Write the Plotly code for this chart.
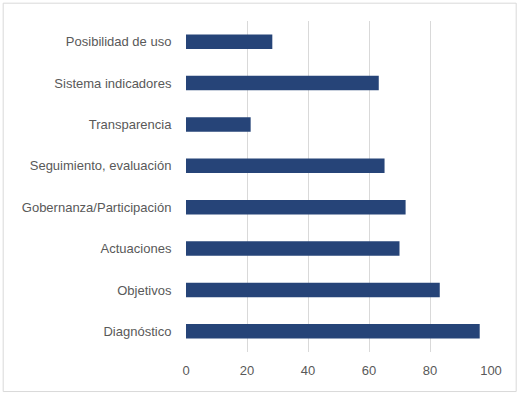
import plotly.graph_objects as go

categories = ["Diagnóstico", "Objetivos", "Actuaciones", "Gobernanza/Participación",
              "Seguimiento, evaluación", "Transparencia", "Sistema indicadores", "Posibilidad de uso"]
values = [96.3, 83.2, 70.0, 72.0, 65.1, 21.2, 63.2, 28.3]
x_ticks = [0, 20, 40, 60, 80, 100]

fig = go.Figure(go.Bar(
    y=categories, x=values, orientation="h",
    marker=dict(color="#264478", line=dict(width=0)),
))

L, R, T, B = 186.3, 28.7, 21.3, 41
W, H = 520, 393
pw = W - L - R
ph = H - T - B

def px2paper_x(p):
    return (p - L) / pw

def px2paper_y(p):
    return (H - B - p) / ph

fig.update_layout(
    width=W, height=H,
    margin=dict(l=L, r=R, t=T, b=B, pad=0),
    paper_bgcolor="white", plot_bgcolor="white",
    bargap=0.65,
    showlegend=False,
    font=dict(family="Liberation Sans, Arial, sans-serif", size=13, color="#595959"),
    xaxis=dict(range=[0, 100], tickvals=x_ticks, showgrid=True, gridcolor="#d9d9d9",
               gridwidth=1, zeroline=False, showline=False, ticks="outside",
               ticklen=6, tickcolor="rgba(0,0,0,0)", fixedrange=True),
    yaxis=dict(showgrid=False, zeroline=False, showline=False, ticks="outside",
               ticklen=11, tickcolor="rgba(0,0,0,0)", fixedrange=True),
    shapes=[dict(type="rect", xref="paper", yref="paper",
                 x0=px2paper_x(3.5), x1=px2paper_x(516.5),
                 y0=px2paper_y(391.5), y1=px2paper_y(3.5),
                 line=dict(color="#d9d9d9", width=1), fillcolor="rgba(0,0,0,0)", layer="below")],
)

fig.write_html("out.html", config={"displayModeBar": False},
               post_script="document.body.style.margin='0';document.body.style.overflow='hidden';")
